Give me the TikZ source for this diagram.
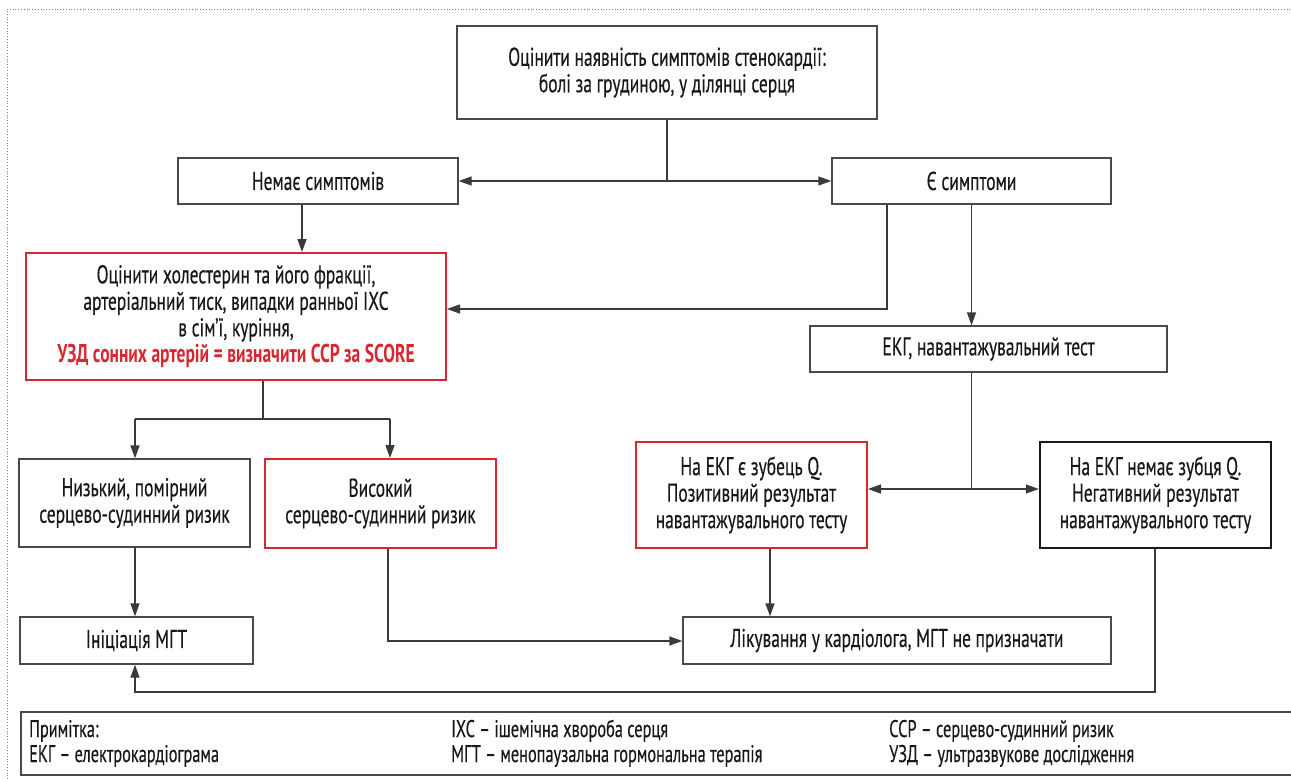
\documentclass[tikz,border=0pt]{standalone}
\usepackage{fontspec}
\setmainfont[FakeStretch=0.68, UprightFeatures={FakeBold=0.35}]{PT Sans}
\usetikzlibrary{arrows.meta}
\definecolor{txt}{HTML}{1A1718}
\definecolor{redc}{HTML}{DA2630}
\definecolor{bord}{HTML}{4A4A4A}
\definecolor{linec}{HTML}{3A3A3A}
\begin{document}
\begin{tikzpicture}[x=1pt,y=-1pt,
  box/.style={draw=bord, line width=1.3pt, inner sep=0pt, align=center, text=txt, font=\fontsize{25.7}{26.5}\selectfont},
  redbox/.style={box, draw=redc, line width=2pt},
  thickbox/.style={box, draw=black!90, line width=2.4pt},
  conn/.style={draw=linec, line width=1.3pt},
  arr/.style={conn, -{Triangle[length=13pt,width=9pt]}},
  legtxt/.style={inner sep=0pt, anchor=base west, text=txt, font=\fontsize{24}{24}\selectfont},
]
\useasboundingbox (0,0) rectangle (1291,779);
\draw[gray, dotted, line width=0.8pt] (7,779) -- (7,9) -- (1291,9);

\node[box, minimum width=420, minimum height=93] (top) at (667,72.5)
  {Оцінити наявність симптомів стенокардії:\\болі за грудиною, у ділянці серця};
\node[box, minimum width=280, minimum height=46] (nosym) at (318,181) {Немає симптомів};
\node[box, minimum width=279, minimum height=46] (yessym) at (971.5,181) {Є симптоми};
\node[redbox, minimum width=420, minimum height=127] (assess) at (236,316.5)
  {Оцінити холестерин та його фракції,\\артеріальний тиск, випадки ранньої ІХС\\в сім’ї, куріння,\\{\bfseries\color{redc}УЗД сонних артерій = визначити ССР за SCORE}};
\node[box, minimum width=357, minimum height=46] (ekg) at (988.5,349) {ЕКГ, навантажувальний тест};
\node[box, minimum width=231, minimum height=88] (low) at (134.5,503) {Низький, помірний\\серцево-судинний ризик};
\node[redbox, minimum width=231, minimum height=89] (high) at (380.5,503.5) {Високий\\серцево-судинний ризик};
\node[redbox, minimum width=231, minimum height=106] (pos) at (751.5,495) {На ЕКГ є зубець Q.\\Позитивний результат\\навантажувального тесту};
\node[thickbox, minimum width=231, minimum height=106] (neg) at (1155.5,495) {На ЕКГ немає зубця Q.\\Негативний результат\\навантажувального тесту};
\node[box, minimum width=233, minimum height=47] (mgt) at (136.5,640.5) {Ініціація МГТ};
\node[box, minimum width=428, minimum height=47] (treat) at (897,640.5) {Лікування у кардіолога, МГТ не призначати};

% connectors
\coordinate (j1) at (top.south |- nosym.east);
\draw[conn] (top.south) -- (j1);
\draw[arr] (j1) -- (nosym.east);
\draw[arr] (j1) -- (yessym.west);

\coordinate (c2) at (302,0);
\draw[arr] (nosym.south -| c2) -- (c2 |- assess.north);

\coordinate (c3) at (887,309);
\draw[arr] (yessym.south -| c3) -- (c3) -- (assess.east |- c3);

\draw[arr] (yessym.south) -- (yessym.south |- ekg.north);

\coordinate (j5) at (971.5,489);
\draw[conn] (ekg.south -| j5) -- (j5);
\draw[arr] (j5) -- (pos.east |- j5);
\draw[arr] (j5) -- (neg.west |- j5);

\coordinate (j6) at (263,419);
\coordinate (l6) at (135,419);
\coordinate (r6) at (390,419);
\draw[conn] (assess.south -| j6) -- (j6);
\draw[conn] (l6) -- (r6);
\draw[arr] (l6) -- (l6 |- low.north);
\draw[arr] (r6) -- (r6 |- high.north);

\draw[arr] (low.south -| l6) -- (l6 |- mgt.north);

\coordinate (c8) at (388,641);
\draw[arr] (high.south -| c8) -- (c8) -- (treat.west |- c8);

\coordinate (c9) at (770,0);
\draw[arr] (pos.south -| c9) -- (c9 |- treat.north);

\coordinate (c10) at (1155,692);
\draw[arr] (neg.south -| c10) -- (c10) -- (l6 |- c10) -- (l6 |- mgt.south);

% legend
\coordinate (lg1) at (1291,712);
\coordinate (lg2) at (21,712);
\coordinate (lg3) at (21,775);
\coordinate (lg4) at (1291,775);
\draw[draw=bord, line width=1.3pt] (lg1) -- (lg2) -- (lg3) -- (lg4);
\node[legtxt] (n1) at (29,737) {Примітка:};
\node[legtxt] (n2) at (29,762) {ЕКГ – електрокардіограма};
\node[legtxt] (n3) at (451,737) {ІХС – ішемічна хвороба серця};
\node[legtxt] (n4) at (451,762) {МГТ – менопаузальна гормональна терапія};
\node[legtxt] (n5) at (889,737) {ССР – серцево-судинний ризик};
\node[legtxt] (n6) at (889,762) {УЗД – ультразвукове дослідження};
\end{tikzpicture}
\end{document}
